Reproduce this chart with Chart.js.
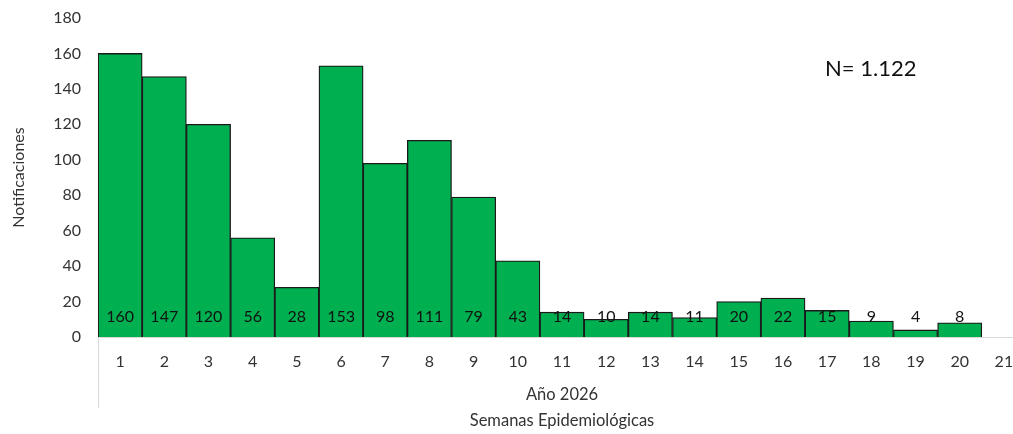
<!DOCTYPE html>
<html lang="es">
<head>
<meta charset="utf-8">
<title>Notificaciones por semana epidemiológica</title>
<script src="https://cdn.jsdelivr.net/npm/chart.js@4.4.1/dist/chart.umd.min.js"></script>
<style>
  html, body { margin: 0; padding: 0; background: #ffffff; overflow: hidden; }
  #wrap { width: 1026px; height: 434px; }
</style>
</head>
<body>
<div id="wrap"><canvas id="chart" width="1026" height="434"></canvas></div>
<script>
// Epidemiological weeks shown on the axis (week 21 has no data yet)
const weeks = ['1','2','3','4','5','6','7','8','9','10','11','12','13','14','15','16','17','18','19','20','21'];
// Notifications per week
const notifications = [160, 147, 120, 56, 28, 153, 98, 111, 79, 43, 14, 10, 14, 11, 20, 22, 15, 9, 4, 8, null];
// Y axis range and step
const yMin = 0;
const yMax = 180;
const yStep = 20;
// Text
const yTitle = 'Notificaciones';
const xTitleLines = ['Año 2026', 'Semanas Epidemiológicas'];
const totalLabel = 'N= 1.122';

const FONT = 'Lato, "Open Sans", "DejaVu Sans", sans-serif';
const BAR_GREEN = '#00B050';

// Writes each week's count near the base of its bar
const valueLabels = {
  id: 'valueLabels',
  afterDatasetsDraw(chart) {
    const { ctx } = chart;
    const y0 = chart.scales.y.getPixelForValue(0);
    const meta = chart.getDatasetMeta(0);
    ctx.save();
    ctx.font = '16px ' + FONT;
    ctx.fillStyle = '#111111';
    ctx.textAlign = 'center';
    ctx.textBaseline = 'middle';
    meta.data.forEach((bar, i) => {
      const v = notifications[i];
      if (v === null || v === undefined) return;
      ctx.fillText(String(v), bar.x, y0 - 20);
    });
    ctx.restore();
  }
};

// Total count text and the left divider of the category axis
const extras = {
  id: 'extras',
  afterDraw(chart) {
    const { ctx } = chart;
    const x = chart.scales.x;
    ctx.save();
    ctx.strokeStyle = '#d9d9d9';
    ctx.lineWidth = 1;
    ctx.beginPath();
    ctx.moveTo(Math.round(x.left) + 0.5, x.top);
    ctx.lineTo(Math.round(x.left) + 0.5, x.top + 71);
    ctx.stroke();

    ctx.font = '22px ' + FONT;
    ctx.fillStyle = '#111111';
    ctx.textAlign = 'left';
    ctx.textBaseline = 'middle';
    ctx.fillText(totalLabel, 825, 69);
    ctx.restore();
  }
};

new Chart(document.getElementById('chart'), {
  type: 'bar',
  data: {
    labels: weeks,
    datasets: [{
      data: notifications,
      backgroundColor: BAR_GREEN,
      borderColor: '#1a1a1a',
      borderWidth: 1.3,
      borderSkipped: 'bottom',
      categoryPercentage: 1.0,
      barPercentage: 1.0
    }]
  },
  options: {
    responsive: false,
    animation: false,
    devicePixelRatio: 1,
    layout: { padding: { top: 18, right: 0, bottom: 0, left: 0 } },
    plugins: {
      legend: { display: false },
      tooltip: { enabled: false }
    },
    scales: {
      x: {
        grid: { display: false, drawTicks: false },
        border: { display: true, color: '#d9d9d9', width: 1 },
        ticks: {
          color: '#333333',
          font: { family: FONT, size: 16 },
          padding: 15,
          maxRotation: 0,
          autoSkip: false
        },
        title: {
          display: true,
          text: xTitleLines,
          color: '#333333',
          font: { family: FONT, size: 16.5, lineHeight: '26px' },
          padding: { top: 0, bottom: 0 }
        },
        afterFit(scale) {
          scale.height = 97;
          scale.paddingLeft = 0;
          scale.paddingRight = 0;
        }
      },
      y: {
        min: yMin,
        max: yMax,
        grid: { display: false, drawTicks: false },
        border: { display: false },
        ticks: {
          stepSize: yStep,
          color: '#333333',
          font: { family: FONT, size: 16 },
          padding: 17
        },
        title: {
          display: true,
          text: yTitle,
          color: '#333333',
          font: { family: FONT, size: 16 },
          padding: { top: 9, bottom: 0 }
        },
        afterFit(scale) {
          scale.width = 98;
          scale.paddingTop = 0;
          scale.paddingBottom = 0;
        }
      }
    }
  },
  plugins: [valueLabels, extras]
});
</script>
</body>
</html>
